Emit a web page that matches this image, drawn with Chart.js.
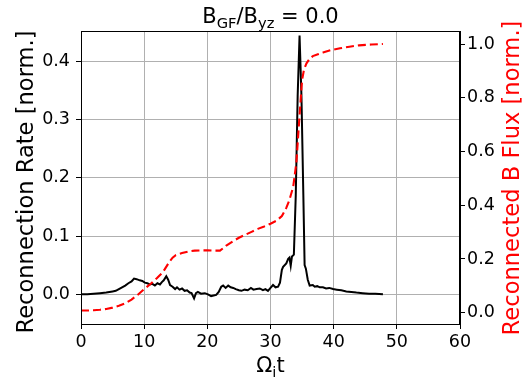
<!DOCTYPE html>
<html>
<head>
<meta charset="utf-8">
<script src="https://cdn.jsdelivr.net/npm/chart.js@4/dist/chart.umd.min.js"></script>
<style>
  html, body { margin: 0; padding: 0; background: #fff; }
  canvas { display: block; }
</style>
</head>
<body>
<canvas id="c" width="522" height="381"></canvas>
<script>
// ---- data ----
const rateTimes = [0, 1, 2, 3, 4, 5, 5.5, 6, 6.5, 7, 7.5, 8, 8.4, 8.8, 9.3, 9.7, 10.1, 10.5, 10.9, 11.3, 11.7, 12.1, 12.5, 12.8, 13.1, 13.5, 13.8, 14.1, 14.5, 14.9, 15.2, 15.6, 16.0, 16.4, 16.8, 17.2, 17.5, 17.9, 18.2, 18.5, 19.0, 19.6, 20.1, 20.6, 21.0, 21.4, 21.8, 22.2, 22.5, 22.9, 23.3, 23.7, 24.1, 24.5, 25.0, 25.4, 25.9, 26.4, 26.9, 27.3, 27.8, 28.3, 28.8, 29.2, 29.6, 30.0, 30.4, 30.8, 31.2, 31.5, 31.8, 32.0, 32.5, 32.8, 33.0, 33.2, 33.4, 33.7, 34.0, 34.3, 34.6, 34.9, 35.2, 35.4, 35.6, 35.9, 36.2, 36.7, 37.0, 37.4, 37.8, 38.3, 38.8, 39.3, 39.9, 40.5, 41.2, 42.0, 42.8, 43.6, 44.6, 45.6, 46.6, 47.8];
const rateValues = [0.000, 0.000, 0.001, 0.002, 0.003, 0.005, 0.006, 0.009, 0.012, 0.015, 0.019, 0.022, 0.027, 0.026, 0.024, 0.023, 0.020, 0.019, 0.017, 0.018, 0.015, 0.019, 0.017, 0.021, 0.024, 0.031, 0.025, 0.016, 0.013, 0.009, 0.012, 0.008, 0.010, 0.006, 0.007, 0.003, 0.002, -0.007, 0.002, 0.004, 0.001, 0.002, 0.000, -0.003, -0.002, -0.001, 0.004, 0.013, 0.015, 0.011, 0.015, 0.012, 0.011, 0.009, 0.007, 0.006, 0.008, 0.007, 0.011, 0.008, 0.009, 0.010, 0.007, 0.009, 0.006, 0.011, 0.016, 0.012, 0.013, 0.020, 0.042, 0.047, 0.053, 0.061, 0.063, 0.049, 0.065, 0.068, 0.170, 0.340, 0.444, 0.340, 0.170, 0.050, 0.044, 0.025, 0.015, 0.016, 0.013, 0.014, 0.012, 0.012, 0.010, 0.011, 0.009, 0.008, 0.007, 0.005, 0.004, 0.003, 0.002, 0.001, 0.001, 0.000];

const fluxTimes = [0, 1, 2, 3, 4, 5, 6, 7, 8, 9, 10, 11, 12, 13, 14, 14.5, 15, 16, 17, 18, 19, 20, 21, 22, 22.5, 23, 24, 25, 26, 27, 28, 29, 30, 31, 31.8, 32.5, 33.0, 33.6, 34.1, 34.6, 35.0, 35.3, 35.7, 36.2, 36.7, 37.5, 38.3, 39.5, 41.0, 42.5, 44.0, 46.0, 47.8];
const fluxValues = [0.008, 0.008, 0.009, 0.011, 0.014, 0.019, 0.026, 0.035, 0.049, 0.067, 0.088, 0.107, 0.128, 0.152, 0.190, 0.205, 0.214, 0.222, 0.228, 0.231, 0.232, 0.232, 0.231, 0.231, 0.240, 0.250, 0.265, 0.279, 0.290, 0.301, 0.312, 0.321, 0.331, 0.343, 0.360, 0.390, 0.420, 0.469, 0.560, 0.735, 0.866, 0.905, 0.928, 0.945, 0.955, 0.962, 0.968, 0.977, 0.984, 0.990, 0.995, 0.998, 1.000];

const xTicks = [0, 10, 20, 30, 40, 50, 60];
const leftTicks = [0.0, 0.1, 0.2, 0.3, 0.4];
const rightTicks = [0.0, 0.2, 0.4, 0.6, 0.8, 1.0];

const titleParts = [["B", false], ["GF", true], ["/B", false], ["yz", true], [" = 0.0", false]];
const xLabelParts = [["Ω", false], ["i", true], ["t", false]];
const leftLabel = "Reconnection Rate [norm.]";
const rightLabel = "Reconnected B Flux [norm.]";

// ---- drawing ----
const FONT = "'DejaVu Sans', sans-serif";

function drawParts(ctx, parts, cx, baseline, size) {
  const subSize = size * 0.7;
  let total = 0;
  const widths = parts.map(([txt, sub]) => {
    ctx.font = (sub ? subSize : size) + "px " + FONT;
    const w = ctx.measureText(txt).width;
    total += w;
    return w;
  });
  let x = cx - total / 2;
  parts.forEach(([txt, sub], i) => {
    ctx.font = (sub ? subSize : size) + "px " + FONT;
    ctx.fillText(txt, x, baseline + (sub ? size * 0.22 : 0));
    x += widths[i];
  });
}

const decor = {
  id: 'decor',
  afterDraw(chart) {
    const ctx = chart.ctx;
    const a = chart.chartArea;
    ctx.save();
    // frame
    ctx.strokeStyle = '#000';
    ctx.lineWidth = 1;
    ctx.strokeRect(Math.round(a.left) + 0.5, Math.round(a.top) + 0.5, Math.round(a.right - a.left) - 1, Math.round(a.bottom - a.top));
    ctx.textAlign = 'left';
    ctx.textBaseline = 'alphabetic';
    ctx.fillStyle = '#000';
    const cx = (a.left + a.right) / 2;
    drawParts(ctx, titleParts, cx, 23, 21);
    drawParts(ctx, xLabelParts, cx, 372, 21);
    // left label
    ctx.save();
    ctx.translate(33, 182);
    ctx.rotate(-Math.PI / 2);
    ctx.textAlign = 'center';
    ctx.font = "22.6px " + FONT;
    ctx.fillStyle = '#000';
    ctx.fillText(leftLabel, 0, 0);
    ctx.restore();
    // right label
    ctx.save();
    ctx.translate(519, 178);
    ctx.rotate(-Math.PI / 2);
    ctx.textAlign = 'center';
    ctx.font = "22.6px " + FONT;
    ctx.fillStyle = '#ff0000';
    ctx.fillText(rightLabel, 0, 0);
    ctx.restore();
    ctx.restore();
  }
};

const tickFont = { family: "'DejaVu Sans', sans-serif", size: 17.5 };
const fmt1 = v => Number(v).toFixed(1);

new Chart(document.getElementById('c').getContext('2d'), {
  type: 'line',
  data: {
    datasets: [
      {
        label: 'Reconnected B Flux',
        data: fluxTimes.map((t, i) => ({ x: t, y: fluxValues[i] })),
        yAxisID: 'y1',
        borderColor: '#ff0000',
        borderWidth: 2.1,
        borderDash: [8, 4],
        pointRadius: 0,
        tension: 0,
        fill: false,
        order: 0
      },
      {
        label: 'Reconnection Rate',
        data: rateTimes.map((t, i) => ({ x: t, y: rateValues[i] })),
        yAxisID: 'y',
        borderColor: '#000000',
        borderWidth: 2,
        pointRadius: 0,
        tension: 0,
        fill: false,
        order: 1
      }
    ]
  },
  options: {
    responsive: false,
    animation: false,
    devicePixelRatio: 1,
    layout: { padding: { top: 31, left: 0, right: 0, bottom: 0 } },
    plugins: { legend: { display: false }, tooltip: { enabled: false }, title: { display: false } },
    scales: {
      x: {
        type: 'linear', position: 'bottom', min: 0, max: 60,
        afterBuildTicks: s => { s.ticks = xTicks.map(v => ({ value: v })); },
        afterFit: s => { s.height = 57; },
        grid: { color: '#b0b0b0', lineWidth: 1, tickLength: 5, tickColor: '#000', drawTicks: true },
        border: { color: '#000', width: 1 },
        ticks: { font: tickFont, color: '#000', padding: 3, maxRotation: 0, autoSkip: false, callback: v => String(v) }
      },
      y: {
        type: 'linear', position: 'left', min: -0.0509, max: 0.4516,
        afterBuildTicks: s => { s.ticks = leftTicks.map(v => ({ value: v })); },
        afterFit: s => { s.width = 81; },
        grid: { color: '#b0b0b0', lineWidth: 1, tickLength: 5, tickColor: '#000', drawTicks: true },
        border: { color: '#000', width: 1 },
        ticks: { font: tickFont, color: '#000', padding: 6, autoSkip: false, callback: fmt1 }
      },
      y1: {
        type: 'linear', position: 'right', min: -0.042, max: 1.0484,
        afterBuildTicks: s => { s.ticks = rightTicks.map(v => ({ value: v })); },
        afterFit: s => { s.width = 62; },
        grid: { drawOnChartArea: false, tickLength: 5, tickColor: '#000', drawTicks: true },
        border: { color: '#000', width: 1 },
        ticks: { font: tickFont, color: '#000', padding: 2, autoSkip: false, callback: fmt1 }
      }
    }
  },
  plugins: [decor]
});
</script>
</body>
</html>
